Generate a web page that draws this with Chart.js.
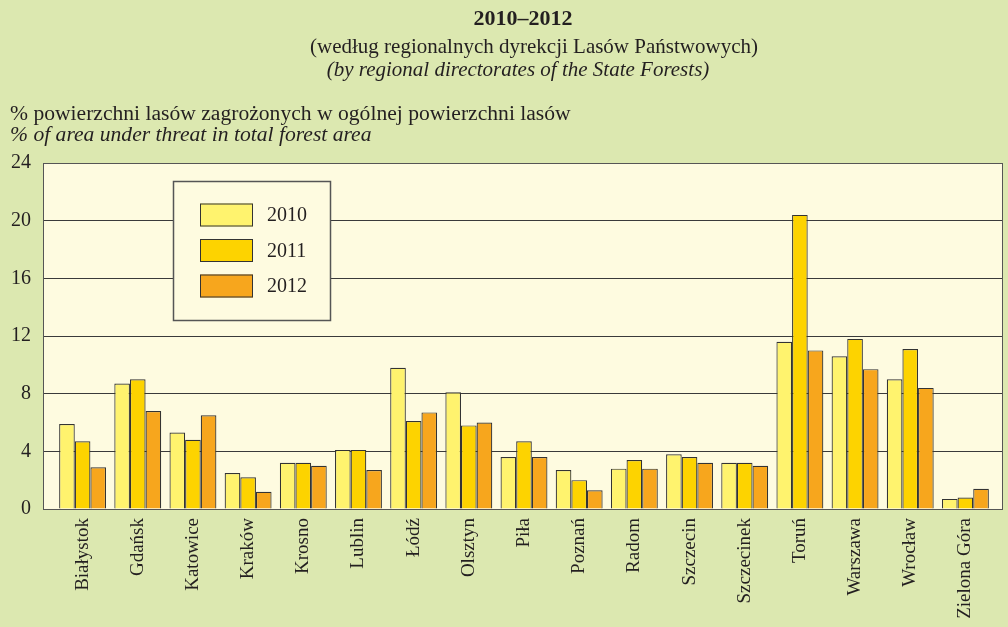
<!DOCTYPE html>
<html>
<head>
<meta charset="utf-8">
<script src="https://cdn.jsdelivr.net/npm/chart.js@4/dist/chart.umd.min.js"></script>
<style>
  html, body { margin: 0; padding: 0; background: #dce8b0; }
  #wrap { width: 1008px; height: 627px; }
</style>
</head>
<body>
<div id="wrap"><canvas id="barChart" width="1008" height="627"></canvas></div>
<script>
// data
const regions = ['Białystok', 'Gdańsk', 'Katowice', 'Kraków', 'Krosno', 'Lublin', 'Łódź', 'Olsztyn', 'Piła',
    'Poznań', 'Radom', 'Szczecin', 'Szczecinek', 'Toruń', 'Warszawa', 'Wrocław', 'Zielona Góra'];
const years = ['2010', '2011', '2012'];
const values2010 = [5.9, 8.7, 5.3, 2.5, 3.2, 4.1, 9.8, 8.1, 3.6, 2.7, 2.8, 3.8, 3.2, 11.6, 10.6, 9.0, 0.7];
const values2011 = [4.7, 9.0, 4.8, 2.2, 3.2, 4.1, 6.1, 5.8, 4.7, 2.0, 3.4, 3.6, 3.2, 20.4, 11.8, 11.1, 0.8];
const values2012 = [2.9, 6.8, 6.5, 1.2, 3.0, 2.7, 6.7, 6.0, 3.6, 1.3, 2.8, 3.2, 3.0, 11.0, 9.7, 8.4, 1.4];
const yTicks = [0, 4, 8, 12, 16, 20, 24];

const colors = ['#fff36e', '#fdd300', '#f7a61d'];
const serif = '"Liberation Serif", "DejaVu Serif", serif';
const plotBg = '#fefbe0';
const gapLeft = 12;   // frame sticks out past the bar area
const gapRight = 10;

// plot background + frame
const plotFrame = {
    id: 'plotFrame',
    beforeDraw(chart) {
        const { ctx, chartArea: a } = chart;
        ctx.save();
        ctx.fillStyle = plotBg;
        ctx.fillRect(a.left - gapLeft, a.top, a.right - a.left + gapLeft + gapRight, a.bottom - a.top);
        ctx.restore();
    },
    afterDraw(chart) {
        const { ctx, chartArea: a } = chart;
        ctx.save();
        ctx.strokeStyle = '#555';
        ctx.lineWidth = 1;
        ctx.strokeRect(a.left - gapLeft + 0.5, a.top + 0.5, a.right - a.left + gapLeft + gapRight - 1, a.bottom - a.top);
        ctx.restore();
    }
};

// headings drawn as text on the canvas
const headings = {
    id: 'headings',
    afterDraw(chart) {
        const ctx = chart.ctx;
        ctx.save();
        ctx.fillStyle = '#231f20';
        ctx.textBaseline = 'middle';
        ctx.textAlign = 'center';
        ctx.font = 'bold 22px ' + serif;
        ctx.fillText('2010–2012', 523, 19);
        ctx.font = '21px ' + serif;
        ctx.fillText('(według regionalnych dyrekcji Lasów Państwowych)', 534, 47);
        ctx.font = 'italic 21px ' + serif;
        ctx.fillText('(by regional directorates of the State Forests)', 518, 70);
        ctx.textAlign = 'left';
        ctx.font = '21.6px ' + serif;
        ctx.fillText('% powierzchni lasów zagrożonych w ogólnej powierzchni lasów', 10, 114);
        ctx.font = 'italic 21.6px ' + serif;
        ctx.fillText('% of area under threat in total forest area', 10, 135);
        ctx.restore();
    }
};

// boxed legend inside the plot
const boxLegend = {
    id: 'boxLegend',
    afterDraw(chart) {
        const ctx = chart.ctx;
        ctx.save();
        ctx.fillStyle = plotBg;
        ctx.fillRect(173, 181, 158, 140);
        ctx.strokeStyle = '#555';
        ctx.lineWidth = 1.5;
        ctx.strokeRect(173.5, 181.5, 157, 139);
        chart.data.datasets.forEach((ds, i) => {
            const cy = 215 + i * 35.5;
            ctx.fillStyle = ds.backgroundColor;
            ctx.fillRect(200, cy - 11.5, 53, 23);
            ctx.strokeStyle = '#333';
            ctx.lineWidth = 1;
            ctx.strokeRect(200.5, cy - 11, 52, 22);
            ctx.fillStyle = '#231f20';
            ctx.font = '20px ' + serif;
            ctx.textBaseline = 'middle';
            ctx.fillText(ds.label, 267, cy + 1);
        });
        ctx.restore();
    }
};

const ctx = document.getElementById('barChart').getContext('2d');
const barChart = new Chart(ctx, {
    type: 'bar',
    data: {
        labels: regions,
        datasets: [
            { label: years[0], data: values2010, backgroundColor: colors[0] },
            { label: years[1], data: values2011, backgroundColor: colors[1] },
            { label: years[2], data: values2012, backgroundColor: colors[2] }
        ]
    },
    options: {
        responsive: false,
        animation: false,
        layout: { padding: { top: 163, left: 0, right: 5, bottom: 0 } },
        datasets: {
            bar: {
                borderColor: '#333',
                borderWidth: 1.2,
                categoryPercentage: 0.85,
                barPercentage: 1.0
            }
        },
        plugins: {
            legend: { display: false },
            tooltip: { enabled: false }
        },
        scales: {
            x: {
                grid: { display: false },
                border: { display: false },
                ticks: {
                    color: '#231f20',
                    font: { family: serif, size: 19 },
                    minRotation: 90,
                    maxRotation: 90,
                    autoSkip: false,
                    padding: 1
                },
                afterFit(scale) { scale.height = 118; }
            },
            y: {
                min: 0,
                max: 24,
                afterBuildTicks(scale) { scale.ticks = yTicks.map(v => ({ value: v })); },
                grid: { color: '#3a3a3a', lineWidth: 1, drawTicks: true, tickLength: gapLeft },
                border: { display: false },
                ticks: {
                    color: '#231f20',
                    font: { family: serif, size: 20 },
                    padding: 12
                },
                afterFit(scale) { scale.width = 55; }
            },
            yRight: {
                position: 'right',
                min: 0,
                max: 24,
                afterBuildTicks(scale) { scale.ticks = yTicks.map(v => ({ value: v })); },
                grid: { color: '#3a3a3a', lineWidth: 1, drawTicks: true, tickLength: gapRight, drawOnChartArea: false },
                border: { display: false },
                ticks: { display: false },
                afterFit(scale) { scale.width = gapRight; }
            }
        }
    },
    plugins: [plotFrame, headings, boxLegend]
});
</script>
</body>
</html>
